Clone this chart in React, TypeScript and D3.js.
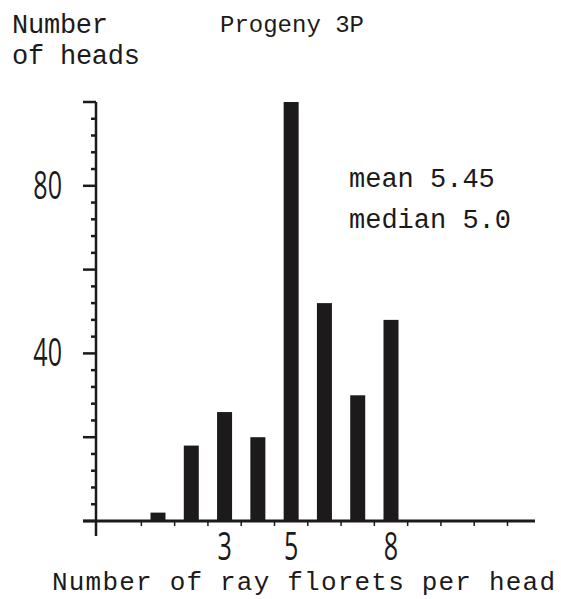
import React from "react";
import * as d3 from "d3";

const florets = [1, 2, 3, 4, 5, 6, 7, 8];
const heads = [2, 18, 26, 20, 100, 52, 30, 48];
const yMajor = [0, 20, 40, 60, 80, 100];
const yLabels = [40, 80];
const xLabels = [3, 5, 8];
const xTicks = [0.5, 1.5, 2.5, 3.5, 4.5, 5.5, 6.5, 7.5, 8.5, 9.5, 10.5, 11.5];
const notes = ["mean 5.45", "median 5.0"];

const W = 561;
const H = 599;
const INK = "#1c1a1a";
const MONO = "'Liberation Mono', 'DejaVu Sans Mono', monospace";
const HAND = "'Open Sans', 'DejaVu Sans', sans-serif";

const App = () => {
  const x = d3.scaleLinear().domain([1, 8]).range([158, 391]);
  const y = d3.scaleLinear().domain([0, 100]).range([521, 102]);
  const yMinor = d3.range(0, 100, 4).filter((v) => v % 20 !== 0);
  const axisX = 96;
  const barW = 15;

  return (
    <svg
      width={W}
      height={H}
      style={{ position: "absolute", left: 0, top: 0, background: "#fff" }}
    >
      {/* axis titles */}
      <g fill={INK} fontFamily={MONO} fontSize={27}>
        <text x={12} y={33} textLength={96} lengthAdjust="spacing">Number</text>
        <text x={12} y={64} textLength={128} lengthAdjust="spacing">of heads</text>
        <text x={220} y={32} fontSize={24}>Progeny 3P</text>
        <text x={52} y={590} fontSize={26} textLength={503} lengthAdjust="spacing">
          Number of ray florets per head
        </text>
        {notes.map((n, i) => (
          <text key={n} x={349} y={187 + i * 41}>{n}</text>
        ))}
      </g>

      {/* bars */}
      {florets.map((f, i) => (
        <rect
          key={f}
          x={x(f) - barW / 2}
          y={y(heads[i])}
          width={barW}
          height={y(0) - y(heads[i])}
          fill={INK}
        />
      ))}

      {/* y axis */}
      <line x1={axisX} x2={axisX} y1={y(100)} y2={536} stroke={INK} strokeWidth={2.5} />
      {yMajor.map((v) => (
        <line key={v} x1={axisX - 13} x2={axisX} y1={y(v)} y2={y(v)} stroke={INK} strokeWidth={2.5} />
      ))}
      {yMinor.map((v) => (
        <line key={v} x1={axisX - 5} x2={axisX} y1={y(v)} y2={y(v)} stroke={INK} strokeWidth={2.5} />
      ))}
      {yLabels.map((v) => (
        <text
          key={v}
          transform={`translate(62,${y(v) + 13}) scale(0.66,1)`}
          textAnchor="end"
          fontFamily={HAND}
          fontWeight={400}
          fontSize={38}
          fill={INK}
        >
          {v}
        </text>
      ))}

      {/* x axis */}
      <line x1={83} x2={535} y1={y(0)} y2={y(0)} stroke={INK} strokeWidth={3} />
      {xTicks.map((t) => (
        <line key={t} x1={x(t)} x2={x(t)} y1={y(0)} y2={y(0) + 5} stroke={INK} strokeWidth={1.5} />
      ))}
      {xLabels.map((v) => (
        <text
          key={v}
          transform={`translate(${x(v)},560) scale(0.66,1)`}
          textAnchor="middle"
          fontFamily={HAND}
          fontWeight={400}
          fontSize={38}
          fill={INK}
        >
          {v}
        </text>
      ))}
    </svg>
  );
};

export default App;
